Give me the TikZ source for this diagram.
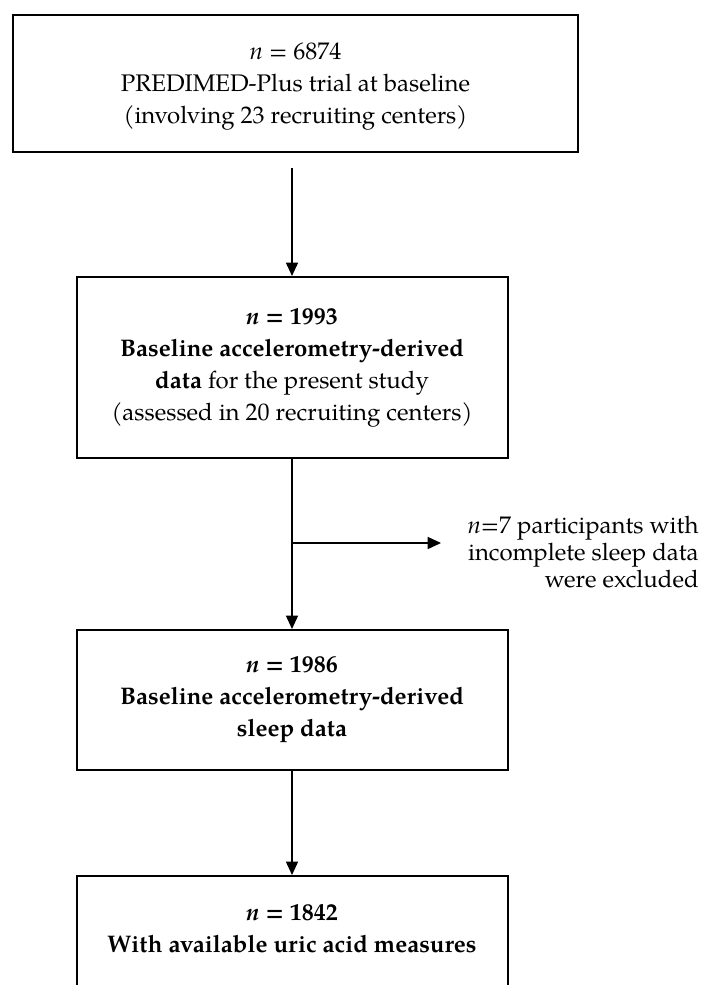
\documentclass[tikz,border=0pt]{standalone}
\usepackage{fontspec}
\setmainfont{TeX Gyre Pagella}
\usetikzlibrary{arrows.meta}
\tikzset{
  box/.style={draw=black, line width=1.5pt, align=center, inner sep=0pt,
    font=\fontsize{18}{24}\selectfont},
  txt/.style={align=center, inner sep=0pt, font=\fontsize{18}{24}\selectfont},
  side/.style={align=right, inner sep=0pt, font=\fontsize{18}{20.5}\selectfont},
  arr/.style={line width=1.1pt, -{Triangle[length=10pt,width=9pt]}},
}
\begin{document}
\begin{tikzpicture}[x=0.75pt,y=-0.75pt]
\useasboundingbox (0,0) rectangle (704,985);
\clip (0,0) rectangle (704,985);
\node[box, minimum width=565*0.75pt, minimum height=137*0.75pt] (b1) at (295.5,83.5) {};
\node[txt] (t1) at (295.5,87)
  {\textit{n} = 6874\\PREDIMED-Plus trial at baseline\\(involving 23 recruiting centers)};
\node[box, minimum width=431*0.75pt, minimum height=181*0.75pt] (b2) at (292,367.5)
  {\textbf{\textit{n} = 1993}\\\textbf{Baseline accelerometry-derived}\\\textbf{data} for the present study\\(assessed in 20 recruiting centers)};
\node[box, minimum width=431*0.75pt, minimum height=140*0.75pt] (b3) at (292,700)
  {\textbf{\textit{n} = 1986}\\\textbf{Baseline accelerometry-derived}\\\textbf{sleep data}};
\node[box, minimum width=431*0.75pt, minimum height=140*0.75pt, anchor=north] (b4) at (292,875) {};
\node[txt] (t4) at (292,929) {\textbf{\textit{n} = 1842}\\\textbf{With available uric acid measures}};
\node[side, anchor=east] (ex) at (699,552)
  {\textit{n}=7 participants with\\incomplete sleep data\\were excluded};
\coordinate (s1) at (292,168);
\coordinate (j) at (292,543);
\coordinate (e) at (441,543);
\draw[arr] (s1) -- (b2.north);
\draw[arr] (b2.south) -- (b3.north);
\draw[arr] (j) -- (e);
\draw[arr] (b3.south) -- (b4.north);
\end{tikzpicture}
\end{document}
